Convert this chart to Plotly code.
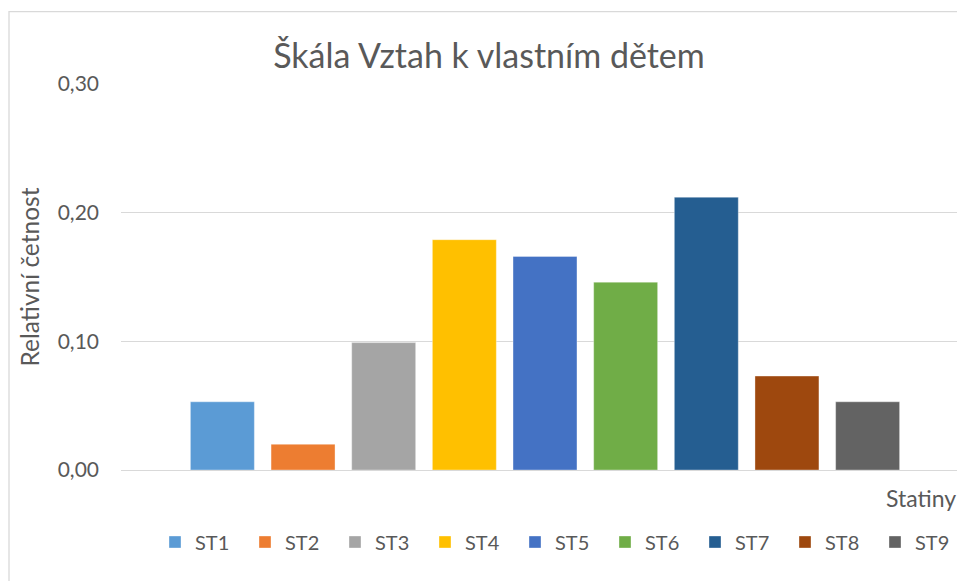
import plotly.graph_objects as go

series = ["ST1", "ST2", "ST3", "ST4", "ST5", "ST6", "ST7", "ST8", "ST9"]
values = [0.053, 0.020, 0.099, 0.179, 0.166, 0.146, 0.212, 0.073, 0.053]
colors = ["#5B9BD5", "#ED7D31", "#A5A5A5", "#FFC000", "#4472C4",
          "#70AD47", "#255E91", "#9E480E", "#636363"]
category = ["Statiny"]

title_text = "Škála Vztah k vlastním dětem"
y_title = "Relativní četnost"
x_title = "Statiny"
y_ticks = [0.0, 0.1, 0.2, 0.3]

FONT = "Lato, Carlito, Calibri, sans-serif"
GREY = "#595959"

fig = go.Figure()
for name, val, col in zip(series, values, colors):
    fig.add_trace(go.Bar(
        x=category, y=[val], name=name,
        marker=dict(color=col, line=dict(color="rgba(255,255,255,0.35)", width=1)),
    ))

W, H = 957, 581
ml, mr, mt, mb = 121, 0, 84, 111
plot_w = W - ml - mr
plot_h = H - mt - mb
full_cat_w = 848.0

fig.update_layout(
    width=W, height=H,
    margin=dict(l=ml, r=mr, t=mt, b=mb, autoexpand=False),
    paper_bgcolor="white", plot_bgcolor="white",
    barmode="group", bargap=0.144, bargroupgap=0.207,
    font=dict(family=FONT, color=GREY, size=20),
    title=dict(text=title_text, x=489 / W, xref="container", xanchor="center",
               y=1 - 56 / H, yref="container", yanchor="middle",
               font=dict(family=FONT, size=34, color=GREY)),
    separators=",.",
    showlegend=True,
    legend=dict(orientation="h", xref="container", yref="container",
                x=155 / W, xanchor="left", y=1 - 542 / H, yanchor="middle",
                entrywidth=45, entrywidthmode="pixels",
                font=dict(family=FONT, size=20, color=GREY),
                traceorder="normal", bgcolor="rgba(0,0,0,0)"),
    xaxis=dict(type="category", range=[-0.5, -0.5 + plot_w / full_cat_w],
               showticklabels=False, showgrid=False, showline=False,
               ticks="", zeroline=False, fixedrange=True),
    yaxis=dict(range=[0, 0.3], tickvals=y_ticks, tickformat=".2f",
               showgrid=True, gridcolor="#D9D9D9", gridwidth=1.3,
               zeroline=True, zerolinecolor="#D9D9D9", zerolinewidth=1.3,
               showline=False, ticks="", ticklabelstandoff=21,
               tickfont=dict(family=FONT, size=21, color=GREY),
               title=dict(text=y_title, standoff=11,
                          font=dict(family=FONT, size=24.5, color=GREY))),
    annotations=[dict(text=x_title, xref="paper", yref="paper",
                      x=(884 - ml) / plot_w, xanchor="left",
                      y=-(498 - 470.3) / plot_h, yanchor="middle",
                      showarrow=False,
                      font=dict(family=FONT, size=23, color=GREY))],
    shapes=[dict(type="rect", xref="paper", yref="paper",
                 x0=(9 - ml) / plot_w, x1=1.2,
                 y0=-0.5, y1=(470.3 - 12) / plot_h,
                 line=dict(color="#D9D9D9", width=1.3), fillcolor="rgba(0,0,0,0)",
                 layer="below")],
)

fig.write_html("out.html", config={"displayModeBar": False},
               post_script="document.body.style.margin='0';document.body.style.overflow='hidden';")
